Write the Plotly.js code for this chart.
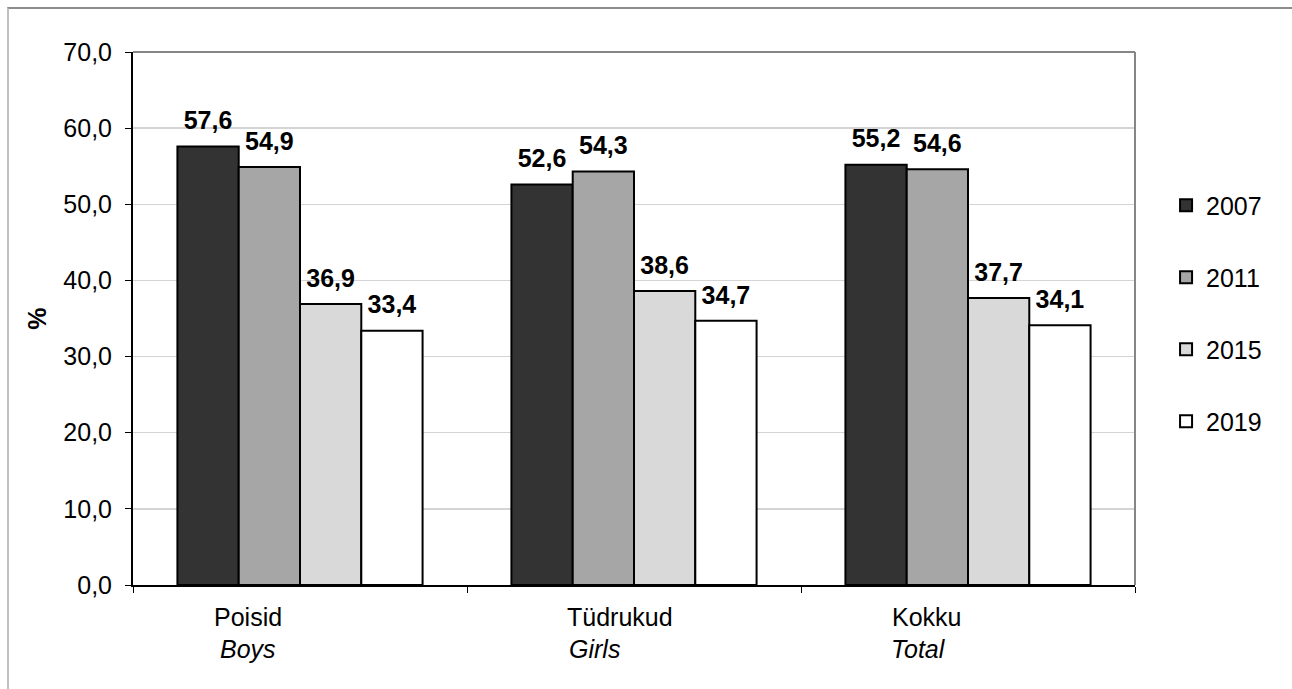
<!DOCTYPE html>
<html>
<head>
<meta charset="utf-8">
<script src="https://cdn.plot.ly/plotly-3.0.1.min.js"></script>
<style>
  html, body { margin: 0; padding: 0; background: #fff; }
  #frame { position: absolute; left: 7px; top: 7px; width: 1285px; height: 682px;
           border-top: 2px solid #8c8c8c; border-left: 2px solid #c0c0c0; box-sizing: border-box; pointer-events: none; z-index: 5; }
  #chart { position: absolute; left: 0; top: 0; width: 1292px; height: 689px; }
</style>
</head>
<body>
<div id="chart"></div>
<div id="frame"></div>
<script>
const categories = ["Poisid", "Tüdrukud", "Kokku"];
const categoriesEn = ["Boys", "Girls", "Total"];
const years = ["2007", "2011", "2015", "2019"];
const values2007 = [57.6, 52.6, 55.2];
const values2011 = [54.9, 54.3, 54.6];
const values2015 = [36.9, 38.6, 37.7];
const values2019 = [33.4, 34.7, 34.1];
const yTicks = [0, 10, 20, 30, 40, 50, 60, 70];

const seriesValues = [values2007, values2011, values2015, values2019];
const colors = ["#333333", "#a6a6a6", "#d9d9d9", "#ffffff"];
const FONT = "Liberation Sans, Arial, sans-serif";
const fmt = v => v.toFixed(1).replace(".", ",");

const barTraces = years.map((yr, i) => ({
  type: "bar",
  name: yr,
  x: categories,
  y: seriesValues[i],
  marker: { color: colors[i], line: { color: "#000", width: 2 } },
  legendgroup: "g" + i,
  hoverinfo: "none"
}));

const labelTraces = years.map((yr, i) => ({
  type: "scatter",
  mode: "markers+text",
  name: yr + " labels",
  x: categories,
  y: seriesValues[i],
  text: seriesValues[i].map(fmt),
  textposition: "top center",
  textfont: { family: FONT, size: 25, color: "#000", weight: "bold" },
  marker: { size: 16, opacity: 0, color: "#000" },
  cliponaxis: false,
  showlegend: false,
  hoverinfo: "none"
}));

// category label offsets (pixels) relative to category center, left anchored
const line1Shift = [-88, -69, -78];
const line2Shift = [-82, -67, -79];
const annotations = [];
categories.forEach((c, i) => {
  annotations.push({ x: c, xref: "x", y: 0, yref: "paper", text: c, showarrow: false,
    xanchor: "left", yanchor: "middle", xshift: line1Shift[i], yshift: -32,
    font: { family: FONT, size: 25, color: "#000" } });
  annotations.push({ x: c, xref: "x", y: 0, yref: "paper", text: "<i>" + categoriesEn[i] + "</i>", showarrow: false,
    xanchor: "left", yanchor: "middle", xshift: line2Shift[i], yshift: -64,
    font: { family: FONT, size: 25, color: "#000" } });
});

const layout = {
  width: 1292, height: 689,
  margin: { l: 133, r: 157, t: 52, b: 104, pad: 0 },
  paper_bgcolor: "#fff", plot_bgcolor: "#fff",
  separators: ", ",
  font: { family: FONT, size: 25, color: "#000" },
  barmode: "group",
  scattermode: "group",
  bargap: 0.266,
  bargroupgap: 0,
  scattergap: 0.266,
  showlegend: true,
  legend: { x: 1.031, xanchor: "left", y: 0.755, yanchor: "top", tracegroupgap: 36.5,
    font: { family: FONT, size: 25, color: "#000" }, bgcolor: "rgba(0,0,0,0)", itemwidth: 30 },
  xaxis: {
    type: "category", tickson: "boundaries", ticks: "outside", ticklen: 6, tickcolor: "#000", tickwidth: 1,
    showticklabels: false, showline: true, linecolor: "#000", linewidth: 2, showgrid: false, zeroline: false,
    fixedrange: true
  },
  yaxis: {
    range: [0, 70], tickvals: yTicks, tickformat: ".1f", ticks: "outside", ticklen: 6, tickcolor: "#000",
    tickwidth: 1, showline: true, linecolor: "#000", linewidth: 2, showgrid: true, gridcolor: "#d4d4d4",
    gridwidth: 1.5, zeroline: false, ticklabelstandoff: 8,
    tickfont: { family: FONT, size: 25, color: "#000" },
    title: { text: "<b>%</b>", font: { family: FONT, size: 25, color: "#000" }, standoff: 10 },
    fixedrange: true
  },
  shapes: [
    { type: "line", xref: "paper", yref: "paper", x0: 0, x1: 1, y0: 1, y1: 1, line: { color: "#868686", width: 2 } },
    { type: "line", xref: "paper", yref: "paper", x0: 1, x1: 1, y0: 0, y1: 1, line: { color: "#868686", width: 2 } }
  ],
  annotations: annotations
};

Plotly.newPlot("chart", barTraces.concat(labelTraces), layout, { displayModeBar: false, staticPlot: true });
</script>
</body>
</html>
